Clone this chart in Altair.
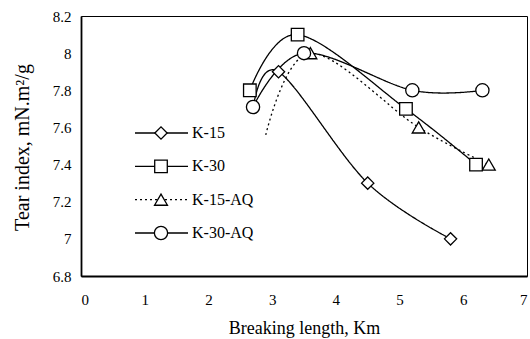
import altair as alt
import pandas as pd

series_names = ["K-15", "K-30", "K-15-AQ", "K-30-AQ"]

k15_x = [2.7, 3.1, 4.5, 5.8]
k15_y = [7.7, 7.9, 7.3, 7.0]
k15_mark = [False, True, True, True]

k15aq_x = [2.9, 3.6, 5.3, 6.4]
k15aq_y = [7.56, 8.0, 7.6, 7.4]
k15aq_mark = [False, True, True, True]

k30aq_x = [2.7, 3.5, 5.2, 6.3]
k30aq_y = [7.71, 8.0, 7.8, 7.8]
k30aq_mark = [True, True, True, True]

k30_x = [2.65, 3.4, 5.1, 6.2]
k30_y = [7.8, 8.1, 7.7, 7.4]
k30_mark = [True, True, True, True]

x_ticks = [0, 1, 2, 3, 4, 5, 6, 7]
y_ticks = [6.8, 7.0, 7.2, 7.4, 7.6, 7.8, 8.0, 8.2]

rows = []
for name, xs, ys, ms in [
    ("K-15", k15_x, k15_y, k15_mark),
    ("K-15-AQ", k15aq_x, k15aq_y, k15aq_mark),
    ("K-30-AQ", k30aq_x, k30aq_y, k30aq_mark),
    ("K-30", k30_x, k30_y, k30_mark),
]:
    for x, y, m in zip(xs, ys, ms):
        rows.append({"series": name, "x": x, "y": y, "marker": m})
df = pd.DataFrame(rows)
df_leg = pd.DataFrame({"series": series_names})

FONT = "Liberation Serif"
shape_scale = alt.Scale(domain=series_names,
                        range=["diamond", "square", "triangle-up", "circle"])
size_scale = alt.Scale(domain=series_names, range=[150, 175, 190, 85])
dash_scale = alt.Scale(domain=series_names,
                       range=[[1, 0], [1, 0], [2, 3], [1, 0]])

xenc = alt.X("x:Q", scale=alt.Scale(domain=[0, 7], nice=False),
             axis=alt.Axis(values=x_ticks, title="Breaking length, Km",
                           labelPadding=16, titleBaseline="alphabetic",
                           titleY=57, titleFontSize=18))
yenc = alt.Y("y:Q", scale=alt.Scale(domain=[6.8, 8.2], nice=False, zero=False),
             axis=alt.Axis(values=y_ticks, format=".1~f",
                           title="Tear index, mN.m²/g",
                           labelPadding=10, titleAlign="center",
                           titleBaseline="alphabetic", titleX=-53, titleY=131,
                           titleFontSize=20))

lines = alt.Chart(df).mark_line(interpolate="cardinal", color="black",
                                strokeWidth=1.3).encode(
    x=xenc, y=yenc, detail="series:N",
    strokeDash=alt.StrokeDash("series:N", scale=dash_scale, legend=None),
)

points = alt.Chart(df).transform_filter("datum.marker").mark_point(
    filled=True, fill="white", stroke="black", strokeWidth=1.3, opacity=1
).encode(
    x=xenc, y=yenc,
    shape=alt.Shape("series:N", scale=shape_scale, legend=None),
    size=alt.Size("series:N", scale=size_scale, legend=None),
)

leg_y = alt.Y("series:N", scale=alt.Scale(type="point", domain=series_names,
                                          range=[117, 217], padding=0),
              axis=None)

leg_rule = alt.Chart(df_leg).mark_rule(color="black", strokeWidth=1.3).encode(
    x=alt.value(54), x2=alt.value(107), y=leg_y,
    strokeDash=alt.StrokeDash("series:N", scale=dash_scale, legend=None),
)
leg_pt = alt.Chart(df_leg).mark_point(
    filled=True, fill="white", stroke="black", strokeWidth=1.3, opacity=1
).encode(
    x=alt.value(80), y=leg_y,
    shape=alt.Shape("series:N", scale=shape_scale, legend=None),
    size=alt.Size("series:N", scale=size_scale, legend=None),
)
leg_txt = alt.Chart(df_leg).mark_text(
    align="left", baseline="middle", font=FONT, fontSize=16, color="black"
).encode(x=alt.value(111), y=leg_y, text="series:N")

data_layer = alt.layer(lines, points)
legend = alt.layer(leg_rule, leg_pt, leg_txt)

chart = alt.layer(data_layer, legend).resolve_scale(
    y="independent"
).properties(
    width=446, height=260,
    background="white",
    autosize=alt.AutoSizeParams(type="none"),
    padding={"left": 81, "top": 16, "right": 3, "bottom": 63},
).configure_view(
    stroke="black", strokeWidth=1
).configure_axis(
    grid=False, ticks=False, domainColor="black", domainWidth=1.8,
    labelFont=FONT, labelFontSize=15, labelColor="black",
    titleFont=FONT, titleFontSize=17, titleFontWeight="normal",
    titleColor="black",
)

chart.save("out.html", embed_options={"renderer": "svg", "actions": False})
